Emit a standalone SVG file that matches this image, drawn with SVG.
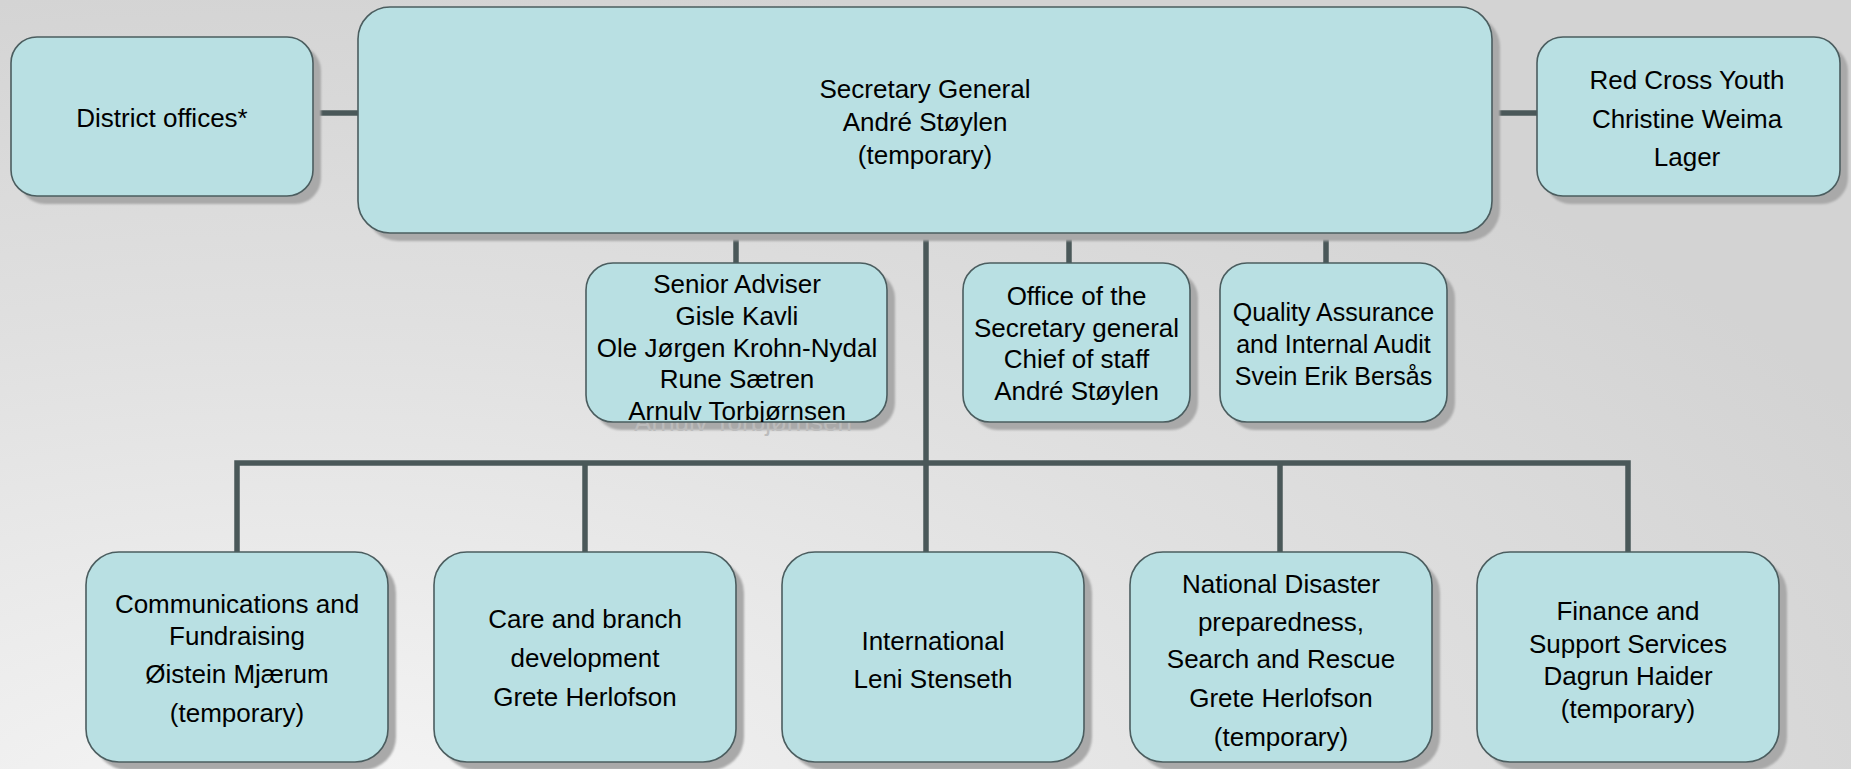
<svg xmlns="http://www.w3.org/2000/svg" width="1851" height="769" viewBox="0 0 1851 769">
<defs>
  <radialGradient id="bg" gradientUnits="userSpaceOnUse" cx="300" cy="860" r="1800" gradientTransform="translate(300 860) scale(1 0.5) translate(-300 -860)">
    <stop offset="0" stop-color="#f7f7f7"/>
    <stop offset="0.6" stop-color="#e0e0e0"/>
    <stop offset="1" stop-color="#d3d3d3"/>
  </radialGradient>
  <filter id="soft" x="-5%" y="-5%" width="110%" height="110%">
    <feGaussianBlur stdDeviation="1.2"/>
  </filter>
  <clipPath id="clipSenior">
    <rect x="586" y="263" width="301" height="159" rx="27"/>
  </clipPath>
</defs>
<style>
  .box { fill: #b9e0e3; stroke: #4b5d5f; stroke-width: 1.6; }
  .shadow { fill: #a9a9a9; filter: url(#soft); }
  .lbl { font-family: "Liberation Sans", Arial, sans-serif; font-size: 26px; fill: #000; text-anchor: middle; }
  .ghost { font-family: "Liberation Sans", Arial, sans-serif; font-size: 26px; fill: #bcbcbc; text-anchor: middle; }
  .conn { stroke: #4a5859; stroke-width: 5.5; fill: none; stroke-linecap: butt; stroke-linejoin: miter; }
</style>
<rect x="0" y="0" width="1851" height="769" fill="url(#bg)"/>

<g id="connectors">
  <line class="conn" x1="313" y1="113" x2="358" y2="113"/>
  <line class="conn" x1="1492" y1="113" x2="1537" y2="113"/>
  <line class="conn" x1="736" y1="233" x2="736" y2="263"/>
  <line class="conn" x1="1069" y1="233" x2="1069" y2="263"/>
  <line class="conn" x1="1326" y1="233" x2="1326" y2="263"/>
  <line class="conn" x1="926" y1="233" x2="926" y2="552"/>
  <polyline class="conn" points="237,552 237,463 1628,463 1628,552"/>
  <line class="conn" x1="585" y1="463" x2="585" y2="552"/>
  <line class="conn" x1="1280" y1="463" x2="1280" y2="552"/>
</g>

<g id="district">
  <rect class="shadow" x="19" y="45" width="302" height="159" rx="26"/>
  <rect class="box" x="11" y="37" width="302" height="159" rx="26"/>
  <text class="lbl" x="162" y="126.5">District offices*</text>
</g>

<g id="secretary-general">
  <rect class="shadow" x="366" y="15" width="1134" height="226" rx="32"/>
  <rect class="box" x="358" y="7" width="1134" height="226" rx="32"/>
  <text class="lbl" x="925" y="98">Secretary General</text>
  <text class="lbl" x="925" y="131">André Støylen</text>
  <text class="lbl" x="925" y="163.5">(temporary)</text>
</g>

<g id="red-cross-youth">
  <rect class="shadow" x="1545" y="45" width="303" height="159" rx="26"/>
  <rect class="box" x="1537" y="37" width="303" height="159" rx="26"/>
  <text class="lbl" x="1687" y="89">Red Cross Youth</text>
  <text class="lbl" x="1687" y="127.5">Christine Weima</text>
  <text class="lbl" x="1687" y="166">Lager</text>
</g>

<g id="senior-adviser">
  <rect class="shadow" x="594" y="271" width="301" height="159" rx="27"/>
  <text class="ghost" x="743" y="431">Arnulv Torbjørnsen</text>
  <rect class="box" x="586" y="263" width="301" height="159" rx="27"/>
  <g clip-path="url(#clipSenior)">
    <text class="lbl" x="737" y="293">Senior Adviser</text>
    <text class="lbl" x="737" y="324.5">Gisle Kavli</text>
    <text class="lbl" x="737" y="356.5">Ole Jørgen Krohn-Nydal</text>
    <text class="lbl" x="737" y="388">Rune Sætren</text>
    <text class="lbl" x="737" y="420">Arnulv Torbjørnsen</text>
  </g>
</g>

<g id="office-secretary-general">
  <rect class="shadow" x="971" y="271" width="227" height="159" rx="27"/>
  <rect class="box" x="963" y="263" width="227" height="159" rx="27"/>
  <text class="lbl" x="1076.5" y="305">Office of the</text>
  <text class="lbl" x="1076.5" y="336.5">Secretary general</text>
  <text class="lbl" x="1076.5" y="368">Chief of staff</text>
  <text class="lbl" x="1076.5" y="400">André Støylen</text>
</g>

<g id="quality-assurance">
  <rect class="shadow" x="1228" y="271" width="227" height="159" rx="27"/>
  <rect class="box" x="1220" y="263" width="227" height="159" rx="27"/>
  <text class="lbl" x="1333.5" y="321" style="font-size:25px">Quality Assurance</text>
  <text class="lbl" x="1333.5" y="353" style="font-size:25px">and Internal Audit</text>
  <text class="lbl" x="1333.5" y="385" style="font-size:25px">Svein Erik Bersås</text>
</g>

<g id="communications">
  <rect class="shadow" x="94" y="560" width="302" height="210" rx="33"/>
  <rect class="box" x="86" y="552" width="302" height="210" rx="33"/>
  <text class="lbl" x="237" y="612.5">Communications and</text>
  <text class="lbl" x="237" y="644.5">Fundraising</text>
  <text class="lbl" x="237" y="683">Øistein Mjærum</text>
  <text class="lbl" x="237" y="721.5">(temporary)</text>
</g>

<g id="care-branch">
  <rect class="shadow" x="442" y="560" width="302" height="210" rx="33"/>
  <rect class="box" x="434" y="552" width="302" height="210" rx="33"/>
  <text class="lbl" x="585" y="628">Care and branch</text>
  <text class="lbl" x="585" y="667">development</text>
  <text class="lbl" x="585" y="706">Grete Herlofson</text>
</g>

<g id="international">
  <rect class="shadow" x="790" y="560" width="302" height="210" rx="33"/>
  <rect class="box" x="782" y="552" width="302" height="210" rx="33"/>
  <text class="lbl" x="933" y="649.5">International</text>
  <text class="lbl" x="933" y="688">Leni Stenseth</text>
</g>

<g id="national-disaster">
  <rect class="shadow" x="1138" y="560" width="302" height="210" rx="33"/>
  <rect class="box" x="1130" y="552" width="302" height="210" rx="33"/>
  <text class="lbl" x="1281" y="592.5">National Disaster</text>
  <text class="lbl" x="1281" y="630.5">preparedness,</text>
  <text class="lbl" x="1281" y="668">Search and Rescue</text>
  <text class="lbl" x="1281" y="707">Grete Herlofson</text>
  <text class="lbl" x="1281" y="746">(temporary)</text>
</g>

<g id="finance">
  <rect class="shadow" x="1485" y="560" width="302" height="210" rx="33"/>
  <rect class="box" x="1477" y="552" width="302" height="210" rx="33"/>
  <text class="lbl" x="1628" y="619.5">Finance and</text>
  <text class="lbl" x="1628" y="652.5">Support Services</text>
  <text class="lbl" x="1628" y="684.5">Dagrun Haider</text>
  <text class="lbl" x="1628" y="717.5">(temporary)</text>
</g>
</svg>
